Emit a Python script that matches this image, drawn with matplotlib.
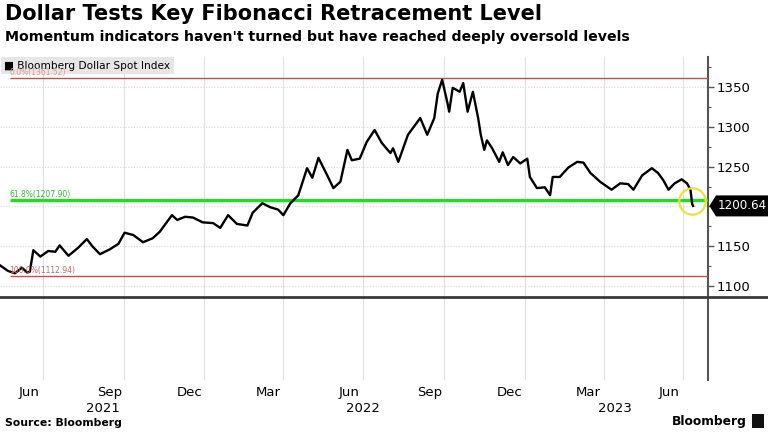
#!/usr/bin/env python3
"""Dollar Tests Key Fibonacci Retracement Level - Bloomberg Dollar Spot Index."""

import matplotlib
matplotlib.use("Agg")
import matplotlib.pyplot as plt
import matplotlib.transforms as mtransforms
from matplotlib.lines import Line2D
from matplotlib.patches import Polygon, Rectangle
import numpy as np
import pandas as pd

# --- data ---------------------------------------------------------------------------------------
DATES = [
    "2021-05-13", "2021-05-22", "2021-05-30", "2021-06-07", "2021-06-13", "2021-06-16",
    "2021-06-20", "2021-06-28", "2021-07-07", "2021-07-15", "2021-07-20", "2021-07-30",
    "2021-08-10", "2021-08-20", "2021-08-27", "2021-09-04", "2021-09-15", "2021-09-25",
    "2021-10-02", "2021-10-12", "2021-10-23", "2021-11-03", "2021-11-11", "2021-11-25",
    "2021-12-01", "2021-12-10", "2021-12-19", "2021-12-30", "2022-01-11", "2022-01-19",
    "2022-01-28", "2022-02-07", "2022-02-19", "2022-02-25", "2022-03-08", "2022-03-17",
    "2022-03-26", "2022-04-01", "2022-04-09", "2022-04-18", "2022-04-28", "2022-05-04",
    "2022-05-11", "2022-05-21", "2022-05-28", "2022-06-05", "2022-06-13", "2022-06-18",
    "2022-06-27", "2022-07-05", "2022-07-14", "2022-07-22", "2022-08-01", "2022-08-04",
    "2022-08-10", "2022-08-21", "2022-09-04", "2022-09-12", "2022-09-20", "2022-09-24",
    "2022-09-29", "2022-10-05", "2022-10-07", "2022-10-11", "2022-10-19", "2022-10-23",
    "2022-10-28", "2022-11-03", "2022-11-09", "2022-11-12", "2022-11-16", "2022-11-19",
    "2022-11-25", "2022-12-03", "2022-12-07", "2022-12-13", "2022-12-19", "2022-12-27",
    "2023-01-04", "2023-01-07", "2023-01-15", "2023-01-24", "2023-01-30", "2023-02-02",
    "2023-02-10", "2023-02-20", "2023-03-02", "2023-03-09", "2023-03-17", "2023-03-28",
    "2023-04-10", "2023-04-20", "2023-04-29", "2023-05-05", "2023-05-15", "2023-05-26",
    "2023-06-02", "2023-06-08", "2023-06-14", "2023-06-21", "2023-06-29", "2023-07-05",
    "2023-07-09", "2023-07-11", "2023-07-12",
]
INDEX = [
    1126, 1119, 1116, 1123, 1117, 1118,
    1145, 1137, 1144, 1143, 1151, 1138,
    1148, 1159, 1149, 1140, 1146, 1153,
    1167, 1164, 1155, 1160, 1168, 1189,
    1183, 1187, 1186, 1180, 1179, 1173,
    1189, 1178, 1176, 1192, 1204, 1199,
    1196, 1189, 1204, 1214, 1248, 1236,
    1261, 1239, 1223, 1231, 1271, 1258,
    1260, 1281, 1296, 1280, 1267, 1273,
    1256, 1290, 1311, 1290, 1311, 1342,
    1359, 1330, 1319, 1349, 1344, 1355,
    1319, 1344, 1311, 1290, 1271, 1283,
    1273, 1256, 1268, 1252, 1262, 1254,
    1260, 1237, 1223, 1224, 1214, 1237,
    1237, 1249, 1256, 1255, 1242, 1231,
    1221, 1229, 1228, 1221, 1239, 1248,
    1242, 1233, 1221, 1229, 1234, 1229,
    1221, 1203, 1200.64,
]
FIB_LABELS = ["0.0%(1361.52)", "61.8%(1207.90)", "100.0%(1112.94)"]
FIB_LEVELS = [1361.52, 1207.90, 1112.94]
FIB_START = "2021-05-24"
LAST_VALUE = 1200.64

MONTH_TICKS = ["2021-06-15", "2021-09-15", "2021-12-15", "2022-03-15", "2022-06-15",
               "2022-09-15", "2022-12-15", "2023-03-15", "2023-06-15"]
MONTH_LABELS = ["Jun", "Sep", "Dec", "Mar", "Jun", "Sep", "Dec", "Mar", "Jun"]
QUARTER_GRID = ["2021-07-01", "2021-10-01", "2022-01-01", "2022-04-01", "2022-07-01",
                "2022-10-01", "2023-01-01", "2023-04-01", "2023-07-01"]
YEAR_LABELS = ["2021", "2022", "2023"]
YEAR_POS = ["2021-09-07", "2022-07-01", "2023-04-14"]

# --- style --------------------------------------------------------------------------------------
plt.rcParams["font.family"] = ["DejaVu Sans"]
W, H = 768, 432
X_LIM = (pd.Timestamp("2021-05-13"), pd.Timestamp("2023-07-29"))
FIB_COLOURS = ["#c0504d", "#22dd22", "#c0504d"]
FIB_TEXT = ["#e89090", "#33b833", "#d06060"]
FIB_LW = [1.0, 2.4, 1.0]
AXIS_COL = "#555555"


def fig_box(x0, y0, x1, y1):
    """pixel box (top-left origin) -> figure fraction rect"""
    return [x0 / W, 1 - y1 / H, (x1 - x0) / W, (y1 - y0) / H]


def main():
    dates = pd.to_datetime(DATES)
    fig = plt.figure(figsize=(W / 100, H / 100), dpi=100)
    ax2 = fig.add_axes(fig_box(0, 297, 708, 380))
    ax = fig.add_axes(fig_box(0, 57, 708, 297), sharex=ax2)
    ax.patch.set_visible(False)

    # price series
    ax.plot(dates, INDEX, color="black", lw=1.7, zorder=4)
    ax.set_ylim(1086.2, 1387.7)
    ax.set_xlim(*X_LIM)

    # fibonacci retracement levels
    for lab, lvl, c, tc, lw in zip(FIB_LABELS, FIB_LEVELS, FIB_COLOURS, FIB_TEXT, FIB_LW):
        ax.hlines(lvl, pd.Timestamp(FIB_START), X_LIM[1], color=c, lw=lw, zorder=3)
        ax.text(pd.Timestamp(FIB_START), lvl + 1.5, lab, color=tc, fontsize=5.5,
                ha="left", va="bottom", zorder=7)

    # grid
    for a in (ax, ax2):
        for d in QUARTER_GRID:
            a.axvline(pd.Timestamp(d), color="#e0e0e0", lw=0.8, zorder=0)
    for v in range(1100, 1351, 50):
        ax.axhline(v, color="#d8d8d8", lw=0.8, ls=(0, (1, 1.5)), zorder=0)

    # axes cosmetics
    for s in ("left", "top", "bottom"):
        ax.spines[s].set_visible(False)
    ax.spines["right"].set_color(AXIS_COL)
    ax.spines["right"].set_linewidth(1.5)
    ax.yaxis.tick_right()
    ax.set_yticks(np.arange(1100, 1351, 50))
    ax.set_yticks(np.arange(1125, 1376, 50), minor=True)
    ax.tick_params(axis="y", which="major", direction="out", length=4, width=1,
                   color=AXIS_COL, labelsize=9.5, pad=2)
    ax.tick_params(axis="y", which="minor", direction="out", length=2.5, width=0.8,
                   color=AXIS_COL)
    ax.tick_params(axis="x", bottom=False, labelbottom=False)

    # dark panel divider running the full figure width
    fig.add_artist(Line2D([0, 1], [1 - 297 / H] * 2, color="#3a3a3a", lw=2.0,
                          transform=fig.transFigure))

    for s in ("left", "top", "bottom"):
        ax2.spines[s].set_visible(False)
    ax2.spines["right"].set_color(AXIS_COL)
    ax2.spines["right"].set_linewidth(1.5)
    ax2.set_yticks([])
    ax2.set_xticks(pd.to_datetime(MONTH_TICKS))
    ax2.set_xticklabels(MONTH_LABELS)
    ax2.tick_params(axis="x", length=0, labelsize=9.5, pad=4)

    trans = mtransforms.blended_transform_factory(ax2.transData, fig.transFigure)
    for lab, d in zip(YEAR_LABELS, YEAR_POS):
        ax2.text(pd.Timestamp(d), 1 - 408 / H, lab, transform=trans, ha="center",
                 va="center", fontsize=9.5)

    # legend chip
    ax.text(0.006, 0.985, "\u25A0 Bloomberg Dollar Spot Index", transform=ax.transAxes,
            ha="left", va="top", fontsize=7.6,
            bbox=dict(boxstyle="square,pad=0.35", fc="#e6e6e6", ec="none"), zorder=6)

    # last value tag (arrow-shaped box on the right axis)
    tag = mtransforms.blended_transform_factory(ax.transAxes, ax.transData)
    half = 10.5 / 0.796
    x_tip, x_box, x_end = 1.002, 1 + 8 / 708, 1 + 60 / 708
    ax.add_patch(Polygon([(x_tip, LAST_VALUE), (x_box, LAST_VALUE + half),
                          (x_end, LAST_VALUE + half), (x_end, LAST_VALUE - half),
                          (x_box, LAST_VALUE - half)], closed=True, fc="black",
                         ec="none", transform=tag, clip_on=False, zorder=7))
    ax.text((x_box + x_end) / 2, LAST_VALUE, f"{LAST_VALUE:.2f}", transform=tag,
            color="white", fontsize=8.6, ha="center", va="center", clip_on=False, zorder=8)

    # highlight circle around the latest break
    ax.plot([pd.Timestamp("2023-07-11")], [1207], marker="o", ms=19, mfc="none",
            mec="#e8e23a", mew=1.6, zorder=6)

    # titles and footer
    fig.text(5 / W, 1 - 4 / H, "Dollar Tests Key Fibonacci Retracement Level",
             fontsize=15, fontweight="bold", ha="left", va="top")
    fig.text(5 / W, 1 - 30 / H,
             "Momentum indicators haven't turned but have reached deeply oversold levels",
             fontsize=10.2, fontweight="bold", ha="left", va="top")
    fig.text(5 / W, 1 - 423 / H, "Source: Bloomberg", fontsize=7.8, fontweight="bold",
             ha="left", va="center")
    fig.text(747 / W, 1 - 421 / H, "Bloomberg", fontsize=8.8, fontweight="bold",
             ha="right", va="center")
    fig.patches.append(Rectangle((752 / W, 1 - 428 / H), 12 / W, 14 / H, fc="#111111",
                                 ec="none", transform=fig.transFigure))

    fig.savefig("out.png", dpi=100, facecolor="white")
    plt.close(fig)


if __name__ == "__main__":
    main()
